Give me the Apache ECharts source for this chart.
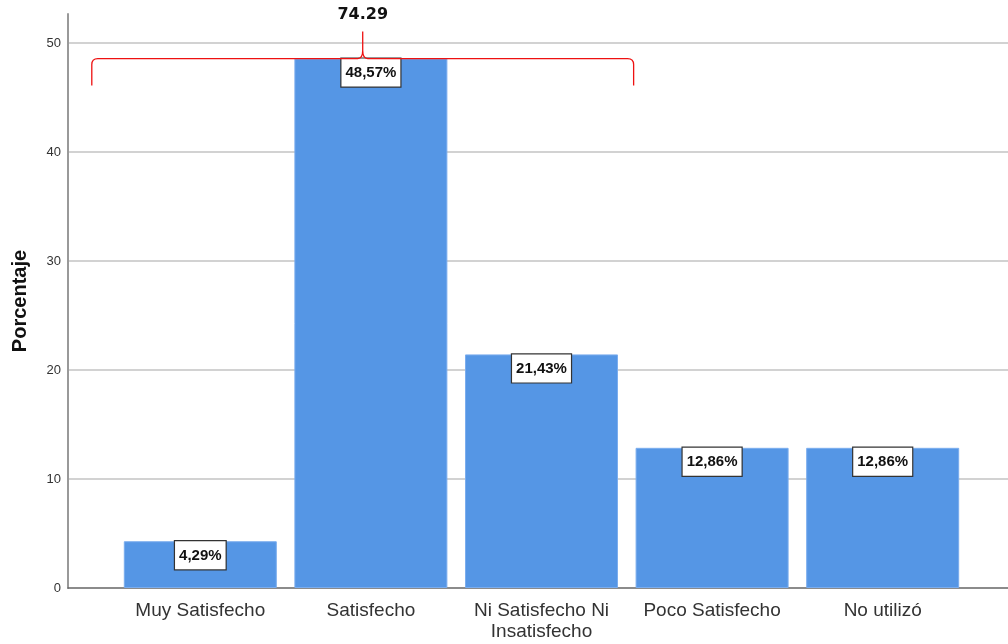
<!DOCTYPE html>
<html>
<head>
<meta charset="utf-8">
<script src="https://cdn.jsdelivr.net/npm/echarts@6/dist/echarts.min.js"></script>
<style>
  html, body { margin: 0; padding: 0; background: #fff; }
  #chart { width: 1008px; height: 644px; }
</style>
</head>
<body>
<div id="chart"></div>
<script>
const categories = ['Muy Satisfecho', 'Satisfecho', 'Ni Satisfecho Ni\nInsatisfecho', 'Poco Satisfecho', 'No utilizó'];
const porcentajes = [4.29, 48.57, 21.43, 12.86, 12.86];
const yTicks = [0, 10, 20, 30, 40, 50];
// brace over the first three categories, with their summed percentage
const braceFrom = 0;
const braceTo = 2;
const braceTotal = 74.29;

const sans = '"Liberation Sans", Arial, sans-serif';
const yMax = 52.66;

const chart = echarts.init(document.getElementById('chart'));

const option = {
  animation: false,
  grid: [
    { left: 68, right: 0, top: 14, bottom: 56, outerBoundsMode: 'none', containLabel: false },
    { left: 115, right: 40, top: 14, bottom: 56, outerBoundsMode: 'none', containLabel: false }
  ],
  xAxis: [
    {
      gridIndex: 0, type: 'value', min: 0, max: 1,
      axisLine: { show: true, lineStyle: { color: '#666', width: 1.5 } },
      axisTick: { show: false }, axisLabel: { show: false }, splitLine: { show: false }
    },
    {
      gridIndex: 1, type: 'category', data: categories,
      axisLine: { show: false }, axisTick: { show: false },
      axisLabel: {
        interval: 0, margin: 12, color: '#333',
        fontFamily: sans, fontSize: 19, lineHeight: 21
      }
    }
  ],
  yAxis: [
    {
      gridIndex: 0, type: 'value', min: 0, max: yMax, interval: 10,
      name: 'Porcentaje', nameLocation: 'middle', nameRotate: 90, nameGap: 38,
      nameTextStyle: { fontFamily: sans, fontWeight: 'bold', fontSize: 20, color: '#111' },
      axisLine: { show: true, lineStyle: { color: '#999', width: 2 } },
      axisTick: { show: false },
      axisLabel: {
        margin: 7, color: '#333', fontFamily: sans, fontSize: 13,
        formatter: v => (yTicks.indexOf(v) >= 0 ? String(v) : '')
      },
      splitLine: { show: true, showMinLine: false, showMaxLine: false, lineStyle: { color: '#d2d2d2', width: 2 } }
    },
    {
      gridIndex: 1, type: 'value', min: 0, max: yMax, interval: 10, show: false
    }
  ],
  series: [
    {
      type: 'bar',
      xAxisIndex: 1, yAxisIndex: 1,
      data: porcentajes,
      barWidth: 153,
      itemStyle: { color: '#5596e5', borderColor: '#7badee', borderWidth: 1 },
      label: {
        show: true, position: 'insideTop', distance: 0,
        formatter: p => p.value.toFixed(2).replace('.', ',') + '%',
        fontFamily: sans, fontWeight: 'bold', fontSize: 15, color: '#111',
        backgroundColor: '#fff', borderColor: '#333', borderWidth: 1.2,
        padding: [7, 4, 6, 4]
      }
    },
    {
      type: 'custom',
      xAxisIndex: 1, yAxisIndex: 1,
      clip: false,
      z: 5,
      data: [[braceFrom, braceTo, porcentajes[1], braceTotal]],
      renderItem: (params, api) => {
        const a = api.coord([api.value(0), api.value(2)]);
        const b = api.coord([api.value(1), api.value(2)]);
        const bw = api.size([1, 0])[0];
        const left = a[0] - 0.636 * bw;
        const right = b[0] + 0.54 * bw;
        const y = a[1];
        const mid = (left + right) / 2;
        const path =
          `M${left},${y + 27} L${left},${y + 6} Q${left},${y} ${left + 6},${y} ` +
          `L${mid - 5},${y} Q${mid},${y} ${mid},${y - 8} L${mid},${y - 27} ` +
          `M${mid},${y - 8} Q${mid},${y} ${mid + 5},${y} ` +
          `L${right - 6},${y} Q${right},${y} ${right},${y + 6} L${right},${y + 27}`;
        return {
          type: 'group',
          children: [
            {
              type: 'path',
              shape: { pathData: path },
              style: { stroke: '#ee1111', lineWidth: 1.3, fill: null }
            },
            {
              type: 'text',
              x: mid, y: y - 36,
              style: {
                text: api.value(3).toFixed(2),
                align: 'center', verticalAlign: 'bottom',
                fontFamily: '"DejaVu Sans", sans-serif', fontWeight: 'bold', fontSize: 16, fill: '#111'
              }
            }
          ]
        };
      }
    }
  ]
};

chart.setOption(option);
</script>
</body>
</html>
